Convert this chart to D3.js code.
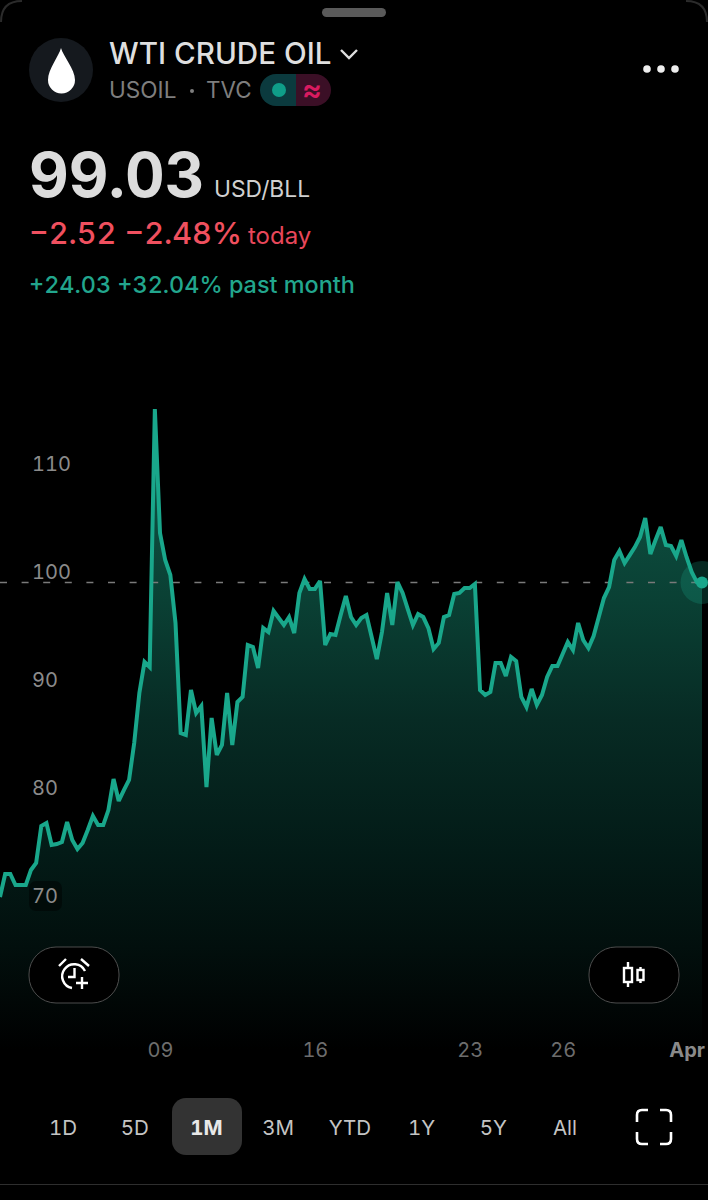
<!DOCTYPE html>
<html><head><meta charset="utf-8">
<script src="https://cdnjs.cloudflare.com/ajax/libs/d3/7.9.0/d3.min.js"></script>
<style>html,body{margin:0;padding:0;background:#000}svg{display:block}text{font-family:Inter,Roboto,sans-serif;font-variant-numeric:tabular-nums}</style>
</head><body><svg id="c" width="708" height="1200"></svg>
<script>
const prices=[69.91,72.04,72.04,71.02,71.02,71.02,72.41,73.06,76.48,76.76,74.72,74.81,75.0,76.85,75.19,74.35,74.91,76.11,77.41,76.57,76.57,77.96,80.83,78.8,79.81,80.74,84.17,88.8,91.67,91.2,115.09,103.61,101.11,99.72,95.28,85.09,84.91,89.07,86.94,87.59,80.09,86.48,83.06,83.98,88.8,83.98,87.96,88.43,93.24,93.06,91.11,94.81,94.44,96.39,95.74,95.09,95.83,94.35,98.06,99.35,98.43,98.43,99.17,93.24,94.26,94.17,96.02,97.78,95.83,95.09,95.74,96.02,93.98,91.94,94.44,98.06,95.09,99.07,98.06,96.57,95.09,96.11,95.83,94.81,92.87,93.43,95.83,96.02,97.96,98.06,98.52,98.52,98.89,89.07,88.61,88.89,91.57,91.57,90.37,92.13,91.76,88.43,87.5,89.17,87.69,88.61,90.28,91.3,91.3,92.41,93.52,92.78,95.28,93.7,92.96,94.07,95.83,97.59,98.61,101.11,101.94,100.83,101.57,102.31,103.24,105,101.67,102.96,104.17,102.5,102.41,101.48,102.96,101.39,100,99.07,99.03];
const priceTicks=[110,100,90,80,70];
const dateTickIdx=[31,61,91,109,133];
const dateTickLabels=["09","16","23","26","Apr"];
const ranges=["1D","5D","1M","3M","YTD","1Y","5Y","All"];
const lastPrice=99.03;

const svg=d3.select("#c");
const defs=svg.append("defs");
const g=defs.append("linearGradient").attr("id","fade").attr("gradientUnits","userSpaceOnUse").attr("x1",0).attr("x2",0).attr("y1",409).attr("y2",1050);
[[0,"#105a4a"],[.3,"#0a4034"],[.485,"#072b24"],[.69,"#031b17"],[.84,"#020f0d"],[1,"#000000"]].forEach(s=>g.append("stop").attr("offset",s[0]).attr("stop-color",s[1]));

const x=d3.scaleLinear().domain([0,prices.length-1]).range([0,702]);
const y=d3.scaleLinear().domain([70,110]).range([896,464]);
const bottom=1050;

svg.append("path").datum(prices).attr("fill","url(#fade)")
 .attr("d",d3.area().x((d,i)=>x(i)).y0(bottom).y1(d=>y(d)));

svg.append("rect").attr("x",29).attr("y",881).attr("width",33).attr("height",30).attr("rx",7).attr("fill","#000").attr("opacity",.45);

svg.append("line").attr("x1",0).attr("x2",702).attr("y1",y(lastPrice)).attr("y2",y(lastPrice))
 .attr("stroke","#7a7a7a").attr("stroke-width",1.4).attr("stroke-dasharray","7 14.6");

svg.append("path").datum(prices).attr("fill","none").attr("stroke","#19a78b").attr("stroke-width",4).attr("stroke-linejoin","miter").attr("stroke-miterlimit",3)
 .attr("d",d3.line().x((d,i)=>x(i)).y(d=>y(d)));

const yAxis=svg.append("g").attr("transform","translate(32,0)").call(d3.axisRight(y).tickValues(priceTicks).tickSize(0).tickPadding(0));
yAxis.select(".domain").remove();
yAxis.selectAll("text").attr("font-size",20).attr("font-family","Inter").attr("fill","#8b8b8b").attr("x",0);

const xAxis=svg.append("g").attr("transform","translate(0,1052)").call(d3.axisBottom(x).tickValues(dateTickIdx).tickFormat((d,i)=>dateTickLabels[i]).tickSize(0).tickPadding(0));
xAxis.select(".domain").remove();
xAxis.selectAll("text").attr("font-size",20).attr("font-family","Inter").attr("fill","#6d6d6d").attr("text-anchor","middle").attr("dy","0.0em").attr("y",0)
 .attr("dominant-baseline","middle");
xAxis.selectAll("text").filter((d,i)=>i===4).attr("font-weight",700).attr("fill","#8a8a8a").attr("text-anchor","end").attr("dx",18);

svg.append("circle").attr("cx",x(prices.length-1)).attr("cy",y(lastPrice)).attr("r",21.5).attr("fill","#19a78b").attr("opacity",.24);
svg.append("circle").attr("cx",x(prices.length-1)).attr("cy",y(lastPrice)).attr("r",6).attr("fill","#19a78b");

// top-of-sheet chrome
svg.append("rect").attr("x",322).attr("y",8).attr("width",64).attr("height",9).attr("rx",4.5).attr("fill","#5a5a5a");
const corner=(d)=>svg.append("path").attr("d",d).attr("fill","none").attr("stroke","#2b2b2b").attr("stroke-width",2);
corner("M1,22 Q1,1 22,1"); corner("M686,1 Q707,1 707,22");

// header
svg.append("circle").attr("cx",61).attr("cy",70).attr("r",32).attr("fill","#15191e");
svg.append("path").attr("fill","#fff").attr("d","M61,48 C63,56 75,69 75,80 A13.5,13.5 0 0 1 48,80 C48,69 59,56 61,48 Z");
const T=(s,xp,yp,fs,fill,w)=>svg.append("text").attr("x",xp).attr("y",yp).attr("font-size",fs).attr("fill",fill).attr("font-weight",w||400).text(s);
T("WTI CRUDE OIL",109,64,29.6,"#dfdfdf",500);
svg.append("path").attr("d","M341,50 L349,58 L357,50").attr("fill","none").attr("stroke","#dfdfdf").attr("stroke-width",2.4);
T("USOIL",109,98,22.6,"#7e7e7e");
svg.append("circle").attr("cx",192).attr("cy",91).attr("r",2).attr("fill","#7e7e7e");
T("TVC",206,98,22.4,"#7e7e7e");
svg.append("path").attr("fill","#0b3a3e").attr("d","M296,74 H276 A16,16 0 0 0 276,106 H296 Z");
svg.append("path").attr("fill","#3b0f26").attr("d","M296,74 H315 A16,16 0 0 1 315,106 H296 Z");
svg.append("circle").attr("cx",279).attr("cy",90).attr("r",7).attr("fill","#0f9d88");
T("≈",312,100,30,"#d81b60",600).attr("text-anchor","middle");
[647,661,675].forEach(c=>svg.append("circle").attr("cx",c).attr("cy",69).attr("r",3.8).attr("fill","#eee"));

T("99.03",29,197,61.5,"#dcdcdc",700);
T("USD/BLL",214,197,22.8,"#d0d0d0");
T("−2.52 −2.48%",29,244,30.5,"#f0505f",500);
T("today",248,244,24,"#e8475a");
T("+24.03 +32.04% past month",29,293,23.4,"#22a68d",500);

// floating buttons
const pill=(px)=>svg.append("rect").attr("x",px).attr("y",947).attr("width",90).attr("height",56).attr("rx",27).attr("fill","#000").attr("stroke","#4d4d4d").attr("stroke-width",1);
pill(29); pill(589);
const icon=svg.append("g").attr("fill","none").attr("stroke","#fff").attr("stroke-width",2.4);
icon.append("path").attr("d","M85,971 A12,12 0 1 0 72,988 M74.5,968 V977 H68 M59,966 L66,959 M89,966 L81,959 M82,977 V989 M76,983 H88");
icon.append("path").attr("d","M628,962 V968 M628,982 V987 M640.5,967 V970 M640.5,980 V983");
icon.append("rect").attr("x",624).attr("y",968).attr("width",8).attr("height",14);
icon.append("rect").attr("x",637.5).attr("y",970).attr("width",6).attr("height",10);

// range selector
svg.append("rect").attr("x",172).attr("y",1098).attr("width",70).attr("height",57).attr("rx",14).attr("fill","#333");
const rx=d3.scalePoint().domain(ranges).range([63,565]);
svg.append("g").selectAll("text").data(ranges).join("text").attr("x",d=>rx(d)).attr("y",1135).attr("text-anchor","middle")
 .attr("font-size",20.5).attr("fill",d=>d==="1M"?"#e8e8e8":"#c4c4c4").attr("font-weight",d=>d==="1M"?700:400).text(d=>d);
svg.append("path").attr("fill","none").attr("stroke","#fff").attr("stroke-width",2.6)
 .attr("d","M637,1122 V1115 Q637,1110 642,1110 H648 M660,1110 H666 Q671,1110 671,1115 V1122 M671,1132 V1139 Q671,1144 666,1144 H660 M648,1144 H642 Q637,1144 637,1139 V1132");
svg.append("line").attr("x1",0).attr("x2",708).attr("y1",1184.5).attr("y2",1184.5).attr("stroke","#2e2e2e");
</script></body></html>
